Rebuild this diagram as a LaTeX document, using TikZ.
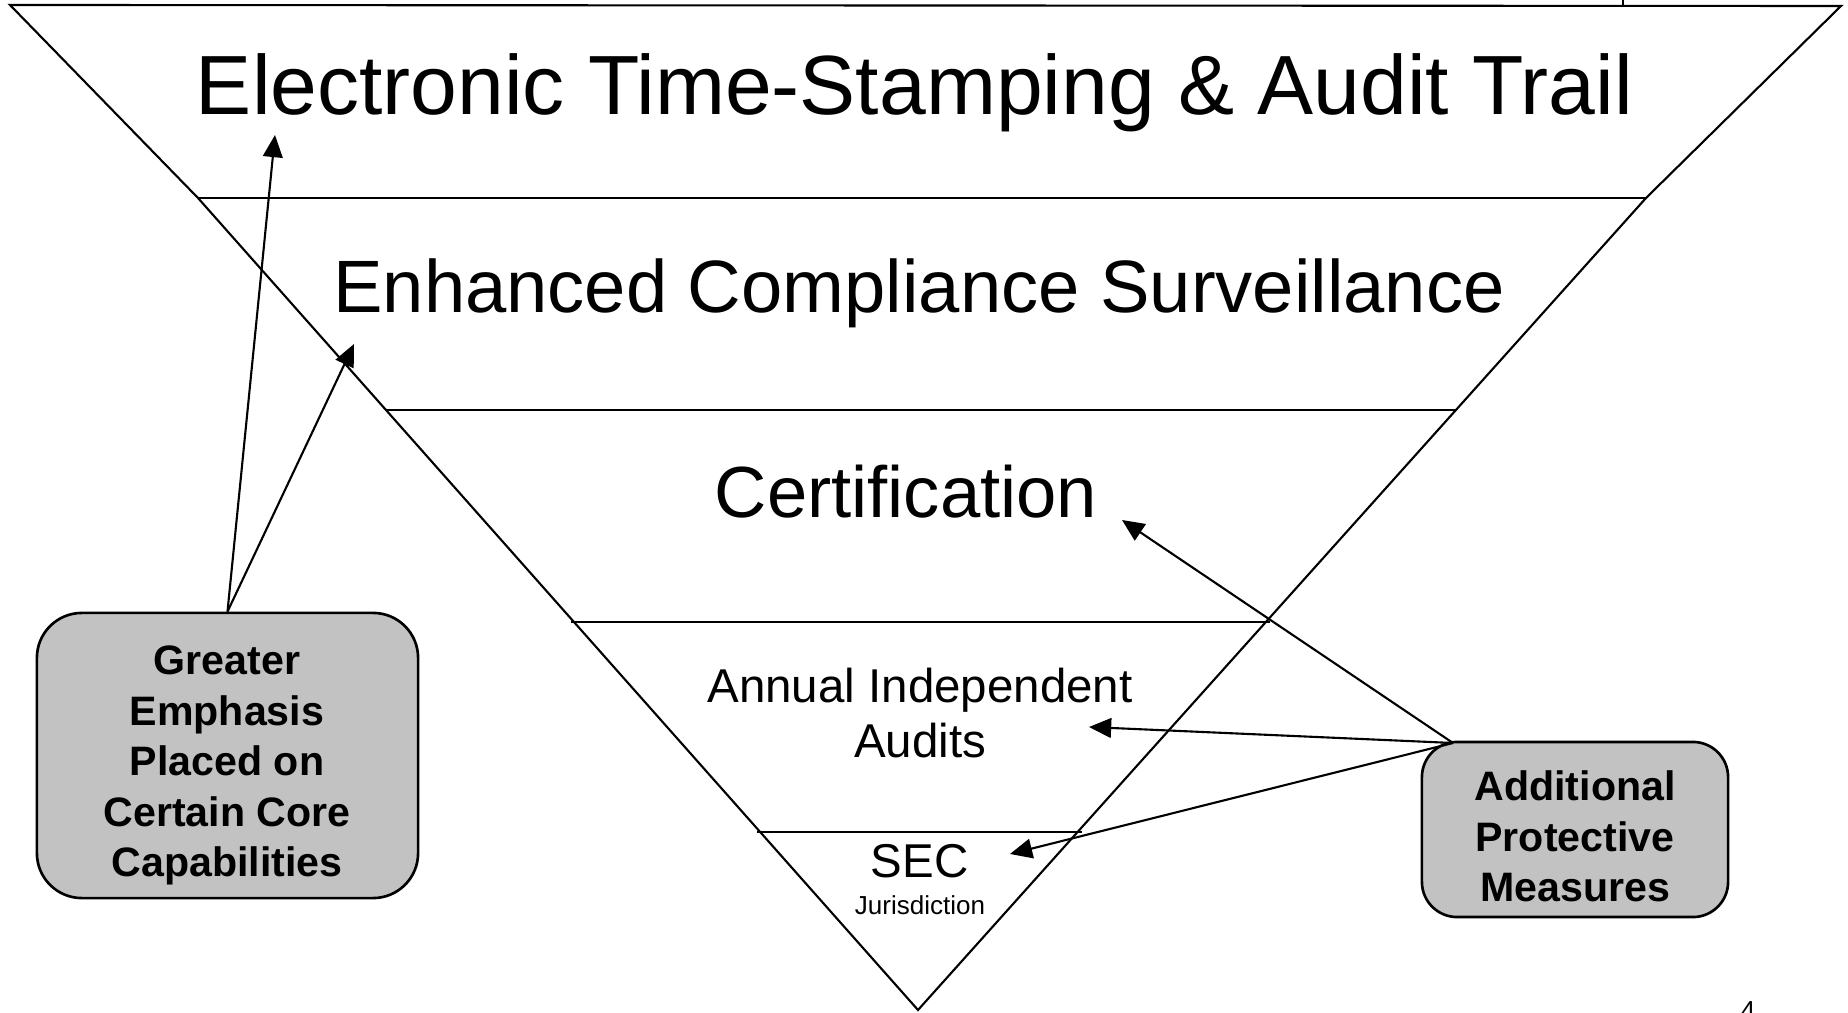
\documentclass[tikz,border=0pt]{standalone}
\usepackage{fontspec}
\setmainfont{Liberation Sans}
\usetikzlibrary{arrows.meta}
\newcommand\setfs[2]{\fontsize{#1}{#2}\selectfont}
\begin{document}
\begin{tikzpicture}[x=0.01cm,y=-0.01cm,
  edge/.style={line width=0.6pt},
  pointer/.style={line width=0.6pt,-{Triangle[length=6.3pt,width=5.6pt]}},
  callout/.style={draw,line width=0.75pt,fill=black!24,inner sep=0pt},
  txt/.style={inner sep=0pt,anchor=base},
  blocktxt/.style={inner sep=0pt,align=center}]
\clip (0,0) rectangle (1848,1013);

% corner points of the inverted pyramid and of its layer lines
\coordinate (L0) at (10,5);    \coordinate (R0) at (1841,6);
\coordinate (L1) at (198,198); \coordinate (R1) at (1646,198);
\coordinate (L2) at (385,410); \coordinate (R2) at (1457,410);
\coordinate (L3) at (571,622); \coordinate (R3) at (1270,622);
\coordinate (L4) at (757,832); \coordinate (R4) at (1082,832);
\coordinate (B)  at (918,1010);
\coordinate (T0) at (1623,0);  \coordinate (T1) at (1623,6);

% pyramid outline and layer separators
\draw[edge] (L0) -- (L1) -- (B) -- (R1) -- (R0) -- cycle;
\draw[edge] (L1) -- (R1);
\draw[edge] (L2) -- (R2);
\draw[edge] (L3) -- (R3);
\draw[edge] (L4) -- (R4);
\draw[edge] (T0) -- (T1);

% layer titles
\node[txt,font=\setfs{23.9}{28}] (t1) at (914.5,115) {Electronic Time-Stamping \& Audit Trail};
\node[txt,font=\setfs{21.1}{25}] (t2) at (919,313) {Enhanced Compliance Surveillance};
\node[txt,font=\setfs{20.6}{25}] (t3) at (906,518) {Certification};
\node[blocktxt,font=\setfs{13.5}{15.65}] (t4) at (920,713) {Annual Independent\\Audits};
\node[txt,font=\setfs{13.5}{16}] (t5) at (919.5,877) {SEC};
\node[txt,font=\setfs{7.4}{9}] (t6) at (920,915) {Jurisdiction};
\node[txt,font=\setfs{7.4}{9}] (pg) at (1748,1019) {4};

% side callouts
\node[callout,rounded corners=12.8pt,minimum width=3.81cm,minimum height=2.85cm] (gbox) at (227.5,755.5) {};
\node[blocktxt,font=\bfseries\setfs{11.7}{14.37}] (gtext) at (227,765.5) {Greater\\Emphasis\\Placed on\\Certain Core\\Capabilities};
\node[callout,rounded corners=10pt,minimum width=3.06cm,minimum height=1.75cm] (abox) at (1575,829.5) {};
\node[blocktxt,font=\bfseries\setfs{11.7}{14.37}] (atext) at (1575,836.5) {Additional\\Protective\\Measures};

% arrow targets
\coordinate (tipE) at (275,135);
\coordinate (tipC) at (354,344);
\coordinate (astart) at (1453,743);
\coordinate (tipCert) at (1122,520);
\coordinate (tipAud) at (1089,727);
\coordinate (tipSec) at (1010,854);

\draw[pointer] (gbox.north) -- (tipE);
\draw[pointer] (gbox.north) -- (tipC);
\draw[pointer] (astart) -- (tipCert);
\draw[pointer] (astart) -- (tipAud);
\draw[pointer] (astart) -- (tipSec);
\end{tikzpicture}
\end{document}
